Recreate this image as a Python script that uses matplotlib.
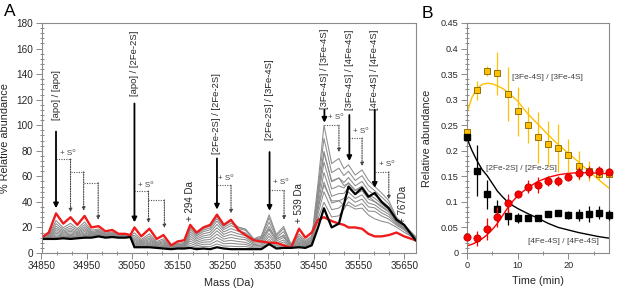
import matplotlib
matplotlib.use('Agg')
import matplotlib.pyplot as plt
from matplotlib.ticker import FixedLocator

plt.rcParams['font.family'] = ['Liberation Sans', 'DejaVu Sans']

# ---------------- Panel A data: deconvoluted mass spectra ----------------
mass = [34850, 34866, 34882, 34898, 34914, 34929, 34945, 34960, 34976, 34991,
        35006, 35020, 35035, 35046, 35055, 35070, 35088, 35104, 35119, 35136,
        35150, 35165, 35178, 35192, 35207, 35222, 35237, 35252, 35268, 35284,
        35300, 35318, 35335, 35352, 35368, 35384, 35400, 35418, 35432, 35446,
        35460, 35473, 35490, 35506, 35517, 35527, 35542, 35557, 35571, 35585,
        35600, 35616, 35633, 35650, 35675]

spec_red = [12, 16, 31, 23, 28, 22, 29, 20, 21, 17,
            18, 15, 15, 14, 20, 13, 19, 11, 14, 6,
            9, 10, 22, 16, 20, 22, 30, 22, 26, 18,
            14, 10, 9, 8, 8, 6, 4, 19, 12, 16,
            26, 28, 25, 23, 22, 20, 20, 19, 15, 13,
            13, 14, 16, 13, 10]

spec_black = [11, 11, 11, 11.5, 11, 11.5, 12, 12, 13, 12,
              12.5, 12, 12, 12.5, 4.5, 4.5, 4.5, 4, 3.5, 3,
              3.5, 3.5, 4, 3, 3.5, 3, 4.5, 3.5, 3, 3,
              3, 3, 3, 7, 3.5, 4, 4, 4.5, 4, 6,
              20, 35, 20, 23, 38, 52, 46, 51, 44, 47,
              40, 35, 26, 22, 10]

spec_g1 = [11.7, 14.6, 25.4, 19.8, 23.2, 19.1, 24.2, 17.8, 18.8, 15.6, 16.5, 14.2, 14.2, 13.6,
           15.7, 10.6, 15, 9, 11.1, 5.2, 7.5, 8.2,
           21.1, 15.4, 19.2, 21, 28.7, 21.1, 24.9, 20.3, 18.5,
           10.7, 11.2, 19, 11.3, 13.4, 5.5,
           14.9, 9.8, 13.2,
           36.2, 53.2, 40.8, 40.9, 37.4, 37.2, 34.4, 35.1, 29.7, 26.7, 24.9, 23.5, 20.2, 16.2, 11]
spec_g2 = [11.6, 14, 23, 18.4, 21.2, 17.8, 22.2, 16.8, 17.8, 15, 15.8, 13.8, 13.8, 13.4,
           13.8, 9.6, 13.2, 8.2, 9.8, 4.8, 6.8, 7.4,
           19.8, 14.4, 18, 19.7, 26.9, 19.8, 23.2, 20.2, 18.7,
           11.2, 13.3, 29.9, 14.5, 20.8, 7,
           13.2, 8.8, 12,
           46.3, 78.4, 56.5, 58.7, 52.8, 54.3, 48.7, 51.2, 44.4, 40.3, 36.8, 32.9, 24.4, 19.3, 12.1]
spec_g3 = [11.5, 13.5, 21, 17.3, 19.5, 16.8, 20.5, 16, 17, 14.5, 15.3, 13.5, 13.5, 13.3,
           12.3, 8.8, 11.8, 7.5, 8.8, 4.5, 6.3, 6.8,
           18.4, 13.4, 16.7, 18.2, 24.9, 18.3, 21.4, 19, 17.8,
           10.4, 12.3, 27.6, 13.4, 19.1, 6.7,
           11.8, 8, 11,
           55, 100, 70, 74, 66, 69, 61, 65, 57, 52, 47, 41, 28, 22, 13]
spec_g4 = [11.4, 13.1, 19.4, 16.3, 18.1, 15.9, 19.1, 15.4, 16.4, 14.1, 14.8, 13.3, 13.3, 13.1,
           11, 8.1, 10.6, 6.9, 7.9, 4.3, 5.8, 6.2,
           16.6, 12.1, 15.1, 16.3, 22.4, 16.5, 19.1, 17, 15.7,
           9.4, 11, 24.2, 12, 16.7, 6.3,
           10.6, 7.4, 10.2,
           50.2, 89.7, 62.9, 66.4, 60.6, 64, 56.8, 60.5, 52.9, 48.7, 43.9, 38.5, 27, 21.3, 12.6]
spec_g5 = [11.4, 12.8, 18, 15.5, 17, 15.2, 18, 14.8, 15.8, 13.8, 14.4, 13.1, 13.1, 13,
           9.9, 7.5, 9.6, 6.5, 7.2, 4, 5.4, 5.8,
           14.8, 10.8, 13.4, 14.4, 19.8, 14.6, 16.8, 15, 13.6,
           8.4, 9.6, 20.8, 10.4, 14.2, 5.8,
           9.6, 6.8, 9.5,
           45.4, 79.5, 55.8, 58.7, 55.2, 59.1, 52.6, 56, 48.8, 45.4, 40.9, 36.1, 25.9, 20.7, 12.1]
spec_g6 = [11.3, 12.4, 16.6, 14.7, 15.8, 14.4, 16.8, 14.2, 15.2, 13.4, 14, 12.8, 12.8, 12.9,
           8.8, 6.9, 8.6, 6, 6.4, 3.8, 5, 5.3,
           13, 9.5, 11.8, 12.5, 17.3, 12.8, 14.5, 13, 12,
           7.5, 8.4, 18.1, 9.2, 12.2, 5.4,
           8.6, 6.2, 8.8,
           41.6, 71.2, 50.1, 52.6, 50.9, 55.1, 49.2, 52.4, 45.5, 42.8, 38.4, 34.1, 25.1, 20.1, 11.7]
spec_g7 = [11.2, 12.1, 15.4, 14, 14.7, 13.8, 15.7, 13.8, 14.8, 13.1, 13.7, 12.7, 12.7, 12.8,
           7.9, 6.4, 7.7, 5.5, 5.8, 3.7, 4.7, 4.9,
           11.2, 8.2, 10.1, 10.6, 14.7, 10.9, 12.2, 11, 10.4,
           6.5, 7.2, 15.3, 7.8, 10.2, 5.1,
           7.7, 5.8, 8.2,
           37.7, 63, 44.4, 46.5, 46.6, 51.2, 45.9, 48.8, 42.2, 40.1, 35.9, 32.1, 24.2, 19.6, 11.4]
spec_g8 = [11.2, 11.8, 14.2, 13.3, 13.7, 13.2, 14.7, 13.3, 14.3, 12.8, 13.4, 12.5, 12.5, 12.7,
           7, 5.9, 6.8, 5.1, 5.2, 3.5, 4.4, 4.5,
           9.4, 6.9, 8.5, 8.7, 12.2, 9.1, 9.9, 9, 8.3,
           5.6, 6.1, 13, 6.7, 8.5, 4.8,
           6.8, 5.3, 7.6,
           34.2, 55.5, 39.1, 40.9, 42.6, 47.6, 42.8, 45.5, 39.1, 37.7, 33.7, 30.3, 23.5, 19.1, 11]
spec_g9 = [11.1, 11.6, 13.2, 12.8, 12.9, 12.7, 13.9, 12.9, 13.9, 12.6, 13.1, 12.3, 12.3, 12.7,
           6.2, 5.4, 6.1, 4.8, 4.7, 3.3, 4.1, 4.2,
           7.6, 5.6, 6.8, 6.8, 9.6, 7.2, 7.6, 7, 6.7,
           4.7, 5, 10.7, 5.5, 6.8, 4.5,
           6.1, 4.9, 7.1,
           30.7, 47.9, 33.9, 35.2, 38.6, 43.9, 39.7, 42.2, 36.1, 35.3, 31.4, 28.5, 22.7, 18.6, 10.7]
spec_g10 = [11.1, 11.3, 12.2, 12.2, 12, 12.1, 13, 12.5, 13.5, 12.3, 12.8, 12.2, 12.2, 12.6,
            5.4, 5, 5.4, 4.4, 4.1, 3.2, 3.8, 3.9,
            5.8, 4.3, 5.2, 4.9, 7.1, 5.4, 5.3, 5, 5.1,
            3.9, 4, 8.9, 4.6, 5.4, 4.2,
            5.4, 4.5, 6.6,
            26.8, 39.7, 28.2, 29.1, 34.3, 40, 36.4, 38.6, 32.8, 32.6, 29, 26.5, 21.8, 18, 10.4]
gray_spectra = [spec_g1, spec_g2, spec_g3, spec_g4, spec_g5,
                spec_g6, spec_g7, spec_g8, spec_g9, spec_g10]

mass_ticks = [34850, 34950, 35050, 35150, 35250, 35350, 35450, 35550, 35650]
abund_ticks = [0, 20, 40, 60, 80, 100, 120, 140, 160, 180]

# species labels: (text, mass, text centre, arrow start, arrow tip)
species = [("[apo] / [apo]", 34882, 123.6, 95, 35),
           ("[apo] / [2Fe-2S]", 35055, 148.7, 117, 24),
           ("[2Fe-2S] / [2Fe-2S]", 35237, 109.5, 74, 34),
           ("[2Fe-2S] / [3Fe-4S]", 35353, 120, 79, 33),
           ("[3Fe-4S] / [3Fe-4S]", 35474, 144, 112, 102),
           ("[3Fe-4S] / [4Fe-4S]", 35529, 143, 108, 72),
           ("[4Fe-4S] / [4Fe-4S]", 35585, 143, 112, 51)]
# sulfur adduct steps: (mass from, level, mass to, tip)
s0_steps = [(34882, 73.5, 34914, 32), (34914, 63.5, 34943, 33), (34943, 55, 34975, 26),
            (35055, 48.5, 35086, 23.5), (35086, 41.5, 35121, 19.5),
            (35237, 53, 35268, 31),
            (35352, 49, 35385, 26),
            (35474, 100, 35506, 79),
            (35529, 90, 35557, 68),
            (35585, 63.5, 35616, 42)]
s0_labels = [(34907, 77.5), (35081, 53), (35257, 58.5), (35378, 55),
             (35500, 106), (35555, 95), (35612, 69)]
adducts = [("+ 294 Da", 35178, 41), ("+ 539 Da", 35418, 39), ("+ 767Da", 35648, 38)]

# ---------------- Panel B data: kinetics ----------------
time = [0, 2, 4, 6, 8, 10, 12, 14, 16, 18, 20, 22, 24, 26, 28]
frac_3fe = [0.237, 0.318, 0.356, 0.352, 0.311, 0.277, 0.25, 0.226, 0.214, 0.205,
            0.191, 0.171, 0.160, 0.154, 0.154]
err_3fe = [0.008, 0.018, 0.010, 0.042, 0.053, 0.048, 0.035, 0.05, 0.044, 0.047,
           0.032, 0.028, 0.02, 0.012, 0.008]
frac_2fe = [0.226, 0.161, 0.115, 0.087, 0.072, 0.069, 0.068, 0.068, 0.076, 0.078,
            0.074, 0.074, 0.076, 0.079, 0.074]
err_2fe = [0.004, 0.05, 0.028, 0.016, 0.017, 0.01, 0.006, 0.005, 0.006, 0.006,
           0.008, 0.012, 0.015, 0.013, 0.01]
frac_4fe = [0.031, 0.029, 0.047, 0.07, 0.097, 0.116, 0.13, 0.133, 0.1415, 0.1415,
            0.148, 0.156, 0.158, 0.161, 0.159]
err_4fe = [0.004, 0.015, 0.022, 0.02, 0.018, 0.006, 0.013, 0.015, 0.01, 0.01,
           0.006, 0.012, 0.012, 0.01, 0.008]

fit_t = [0, 1, 2, 3, 4, 5, 6, 7, 8, 9, 10, 12, 14, 16, 18, 20, 22, 24, 26, 28]
fit_3fe = [0.274, 0.305, 0.322, 0.330, 0.332, 0.331, 0.327, 0.322, 0.315, 0.306, 0.297,
           0.272, 0.252, 0.231, 0.212, 0.195, 0.178, 0.16, 0.143, 0.127]
fit_2fe = [0.224, 0.2, 0.18, 0.163, 0.151, 0.136, 0.121, 0.11, 0.10, 0.093, 0.087,
           0.077, 0.068, 0.058, 0.05, 0.045, 0.04, 0.036, 0.032, 0.029]
fit_4fe = [0.014, 0.017, 0.022, 0.028, 0.036, 0.046, 0.058, 0.073, 0.088, 0.101, 0.112,
           0.128, 0.14, 0.148, 0.153, 0.156, 0.157, 0.157, 0.156, 0.155]

time_ticks = [0, 10, 20]
frac_ticks = [0, 0.05, 0.1, 0.15, 0.2, 0.25, 0.3, 0.35, 0.4, 0.45]
frac_tick_labels = ['0', '0.05', '0.1', '0.15', '0.2', '0.25', '0.3', '0.35', '0.4', '0.45']

series_labels_B = [("[3Fe-4S] / [3Fe-4S]", 8.9, 0.344),
                   ("[2Fe-2S] / [2Fe-2S]", 3.8, 0.166),
                   ("[4Fe-4S] / [4Fe-4S]", 12.1, 0.022)]

# ---------------- Figure ----------------
W, H = 617, 292
fig = plt.figure(figsize=(W / 100, H / 100), dpi=100)
axA = fig.add_axes([41.5 / W, 39 / H, 374.5 / W, 230 / H])
axB = fig.add_axes([467 / W, 39 / H, 142 / W, 230 / H])

spine_c = '#8a8a8a'
txt_c = '#262626'
for ax in (axA, axB):
    for s in ax.spines.values():
        s.set_color(spine_c)
        s.set_linewidth(0.8)
    ax.tick_params(which='both', colors=spine_c, labelcolor=txt_c, width=0.7)
    ax.tick_params(which='major', direction='out', length=4)
    ax.tick_params(which='minor', direction='inout', length=3)

# ---- Panel A ----
for g in gray_spectra:
    axA.plot(mass, g, color='#8c8c8c', lw=0.75, solid_joinstyle='round')
axA.plot(mass, spec_red, color='#ee1c1c', lw=1.7, solid_joinstyle='round')
axA.plot(mass, spec_black, color='black', lw=1.6, solid_joinstyle='round')

axA.set_xlim(34850, 35676)
axA.set_ylim(0, 180)
axA.xaxis.set_major_locator(FixedLocator(mass_ticks))
minor_mass = []
for m in mass_ticks:
    minor_mass += [m + 100 / 3, m + 200 / 3]
axA.xaxis.set_minor_locator(FixedLocator(minor_mass))
axA.set_xticklabels([str(m) for m in mass_ticks])
axA.yaxis.set_major_locator(FixedLocator(abund_ticks))
axA.yaxis.set_minor_locator(FixedLocator([v + d for v in abund_ticks[:-1] for d in (4, 8, 12, 16)]))
axA.set_yticklabels([str(v) for v in abund_ticks])
axA.tick_params(labelsize=7.2, pad=2)
axA.set_xlabel('Mass (Da)', fontsize=7.8, color=txt_c, labelpad=5)
axA.set_ylabel('% Relative abundance', fontsize=7.8, color=txt_c)
axA.yaxis.set_label_coords(-0.085, 0.5)

for label, x, ty, y0, y1 in species:
    axA.text(x, ty, label, rotation=90, ha='center', va='center', fontsize=6.8, color=txt_c)
    axA.annotate('', xy=(x, y1), xytext=(x, y0),
                 arrowprops=dict(arrowstyle='-|>', color='black', lw=1.3,
                                 mutation_scale=7, shrinkA=0, shrinkB=0))
for x0, lvl, x1, tip in s0_steps:
    axA.plot([x0, x1], [lvl, lvl], ls=(0, (1, 1.2)), color='#555555', lw=0.8)
    axA.annotate('', xy=(x1, tip), xytext=(x1, lvl),
                 arrowprops=dict(arrowstyle='-|>', color='#444444', lw=0.8, ls=(0, (1, 1.2)),
                                 mutation_scale=5, shrinkA=0, shrinkB=0))
for x, y in s0_labels:
    axA.text(x, y, '+ S⁰', ha='center', va='center', fontsize=5.8, color='#444444')
for label, x, y in adducts:
    axA.text(x, y, label, rotation=90, ha='center', va='center', fontsize=7, color=txt_c)

# ---- Panel B ----
axB.plot(fit_t, fit_3fe, color='#ffc000', lw=1.0)
axB.plot(fit_t, fit_4fe, color='#ff0000', lw=1.0)
axB.plot(fit_t, fit_2fe, color='black', lw=1.0)
axB.errorbar(time, frac_3fe, yerr=err_3fe, fmt='s', color='#ffc000', ms=5,
             mfc='#ffc000', mec='#7f6000', mew=0.6, elinewidth=0.9, capsize=0,
             clip_on=False, zorder=3)
axB.errorbar(time, frac_2fe, yerr=err_2fe, fmt='s', color='black', ms=4.6,
             mfc='black', mec='black', elinewidth=0.9, capsize=0, clip_on=False, zorder=3)
axB.errorbar(time, frac_4fe, yerr=err_4fe, fmt='o', color='#ff0000', ms=5.2,
             mfc='#ff0000', mec='#c00000', mew=0.6, elinewidth=0.9, capsize=0,
             clip_on=False, zorder=4)
axB.set_xlim(0, 28)
axB.set_ylim(0, 0.45)
axB.xaxis.set_major_locator(FixedLocator(time_ticks))
axB.xaxis.set_minor_locator(FixedLocator([5, 15, 25]))
axB.set_xticklabels([str(t) for t in time_ticks])
axB.yaxis.set_major_locator(FixedLocator(frac_ticks))
axB.yaxis.set_minor_locator(FixedLocator([round(i * 0.01, 2) for i in range(46) if i % 5]))
axB.set_yticklabels(frac_tick_labels)
axB.tick_params(labelsize=6.6, pad=2)
axB.set_xlabel('Time (min)', fontsize=7.8, color=txt_c, labelpad=4)
axB.set_ylabel('Relative abundance', fontsize=7.8, color=txt_c)
axB.yaxis.set_label_coords(-0.245, 0.5)
for label, x, y in series_labels_B:
    axB.text(x, y, label, ha='left', va='center', fontsize=6, color='#404040')

fig.text(10 / W, 1 - 12 / H, 'A', fontsize=12.5, ha='center', va='center', color='black')
fig.text(427 / W, 1 - 14 / H, 'B', fontsize=12.5, ha='center', va='center', color='black')

fig.savefig('out.png', dpi=100)
